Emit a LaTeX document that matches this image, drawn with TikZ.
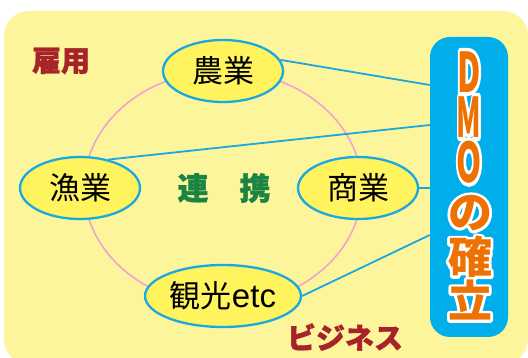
\documentclass[tikz,border=0pt]{standalone}
\usepackage{fontspec}
\usepackage{graphicx}
\usetikzlibrary{shapes.geometric,calc}
\newfontfamily\cjk{Noto Sans CJK JP}
\newfontfamily\cjkh{Noto Sans CJK JP Black}
\newfontfamily\cjkfat[FakeBold=1.2]{Noto Sans CJK JP Black}
\newfontfamily\lat{Liberation Sans}
\definecolor{bgyellow}{HTML}{FDF59B}
\definecolor{nodeyellow}{HTML}{FFF35E}
\definecolor{linecyan}{HTML}{1AA8E0}
\definecolor{boxcyan}{HTML}{00AEEA}
\definecolor{ringpink}{HTML}{EFA3CF}
\definecolor{darkred}{HTML}{A8222A}
\definecolor{darkgreen}{HTML}{1C8443}
\definecolor{dmoorange}{HTML}{EE7203}
\newcommand\outl[1]{%
\rlap{\special{pdf:literal direct 1 Tr 5.5 w 1 j 1 1 1 RG}#1\special{pdf:literal direct 0 Tr}}%
\textcolor{dmoorange}{#1}}
\tikzset{
  ell/.style={ellipse, draw=linecyan, line width=2.3pt, fill=nodeyellow, inner sep=0pt,
    minimum height=62pt, font=\cjk\fontsize{31}{31}\selectfont, text=black},
  link/.style={draw=linecyan, line width=1.8pt},
  redlbl/.style={font=\cjkfat\fontsize{29}{29}\selectfont, text=darkred, inner sep=0pt},
  greenlbl/.style={font=\cjkfat\fontsize{31}{31}\selectfont, text=darkgreen, inner sep=0pt},
  latin/.style={font=\cjkh\fontsize{40}{40}\selectfont, inner sep=0pt},
  kanji/.style={font=\cjkh\fontsize{44}{44}\selectfont, inner sep=0pt}
}
\begin{document}
\begin{tikzpicture}[x=1pt,y=-1pt]
\useasboundingbox (0,0) rectangle (528,358);
\begin{scope}
\clip (0,0) rectangle (528,358);
\fill[white] (0,0) rectangle (528,358);
\fill[bgyellow, rounded corners=25pt] (4,11) rectangle (528,364);
\end{scope}
\draw[ringpink, line width=1.6pt] (223,188) ellipse [x radius=139pt, y radius=117pt];
\node[fill=boxcyan, rounded corners=20pt, minimum width=78pt, minimum height=300pt, inner sep=0pt] (dmo) at (469,187) {};
\node[ell, minimum width=120pt] (nogyo) at (223,71) {農業};
\node[ell, minimum width=120pt] (gyogyo) at (80,188) {漁業};
\node[ell, minimum width=120pt] (shogyo) at (358,188) {商業};
\node[ell, minimum width=156pt] (kanko) at (223,296) {観光{\lat\fontsize{33}{33}\selectfont etc}};
\draw[link] (nogyo.11) -- (dmo.west |- 0,85);
\draw[link] (gyogyo.45) -- (dmo.west |- 0,125);
\draw[link] (shogyo.east) -- (dmo.west |- shogyo.east);
\draw[link] (kanko.east) -- (dmo.west |- 0,235);
\node[redlbl] (koyo) at (61,61) {雇用};
\node[redlbl] (biz) at (345,337) {ビジネス};
\node[greenlbl] (renkei) at (224,188) {連\hspace{1em}携};
\node[latin] (dD) at (469,72) {\outl{\scalebox{0.8}[1.37]{D}}};
\node[latin] (dM) at (469,117) {\outl{\scalebox{0.7}[1.37]{M}}};
\node[latin] (dO) at (469,162) {\outl{\scalebox{0.8}[1.37]{O}}};
\node[kanji] (dno) at (470,213) {\outl{の}};
\node[kanji] (dkaku) at (470,257) {\outl{確}};
\node[kanji] (dritsu) at (470,300) {\outl{立}};
\end{tikzpicture}
\end{document}
